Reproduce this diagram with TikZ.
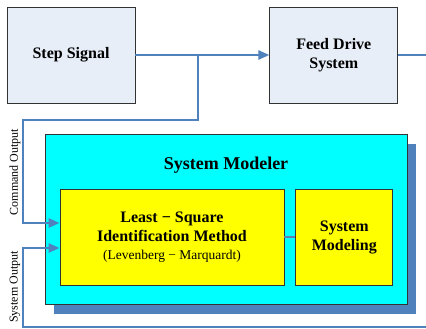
\documentclass[tikz,border=0pt]{standalone}
\usepackage{fontspec}
\setmainfont{Liberation Serif}
\usetikzlibrary{arrows.meta,positioning,shapes,shadows}

\definecolor{wireblue}{RGB}{79,129,189}
\definecolor{boxgrey}{RGB}{232,238,247}
\definecolor{aqua}{RGB}{0,255,255}
\definecolor{lemon}{RGB}{255,255,0}

\begin{document}
\begin{tikzpicture}[x=1pt,y=1pt,
            txt/.style={font=\fontsize{16}{19}\selectfont\bfseries,align=center},
            block/.style={draw=black!80,line width=.8pt,rectangle,fill=boxgrey,minimum width=128pt,minimum height=96pt,txt},
            inner/.style={draw=black!80,line width=.8pt,rectangle,fill=lemon,minimum height=96pt,txt},
            modeler/.style={draw=black!80,line width=.8pt,rectangle,fill=aqua,minimum width=362pt,minimum height=170pt,
              drop shadow={shadow xshift=9pt,shadow yshift=-10pt,fill=wireblue,opacity=1}},
            lab/.style={rotate=90,font=\fontsize{12}{14}\selectfont},
            wire/.style={draw=wireblue,line width=2.5pt},
            >={Triangle[length=11pt,width=9pt]}
          ]
          \useasboundingbox (0,0) rectangle (426,329);

          % top row
          \node[block] (step) at (71,274) {Step Signal};
          \node[block,right=134pt of step] (feed) {Feed Drive\\System};

          % modeler with its two stages
          \node[modeler] (sysmod) at (226,110) {};
          \node[txt,font=\fontsize{18}{21}\selectfont\bfseries] (title) at (226,164) {System Modeler};
          \node[inner,minimum width=224pt] (lsq) at (172,92) {Least − Square\\Identification Method\\[-1pt]
            {\fontsize{13.5}{19}\selectfont\mdseries (Levenberg − Marquardt)}};
          \node[inner,minimum width=97pt,right=11pt of lsq] (model) {System\\Modeling};

          %labels
          \node[lab] (cmdlab) at (15,157) {Command Output};
          \node[lab] (outlab) at (15,42) {System Output};

          % wiring
          \coordinate (tap) at (198,274);
          \coordinate (cmdbend) at (23,209);
          \coordinate (outright) at (426,2);
          \coordinate (outleft) at (23,2);
          \coordinate (feedout) at (426,274);

          \draw[wire,->] (step) -- (feed);
          \draw[wire] (feed) -- (feedout);
          \draw[wire,->] (tap) |- (cmdbend) |- ([yshift=14pt]lsq.west);
          \draw[wire,->] (outright) -- (outleft) |- ([yshift=-11pt]lsq.west);
          \draw[draw=wireblue!70!gray,line width=2.5pt] (lsq) -- (model);
      \end{tikzpicture}
\end{document}
